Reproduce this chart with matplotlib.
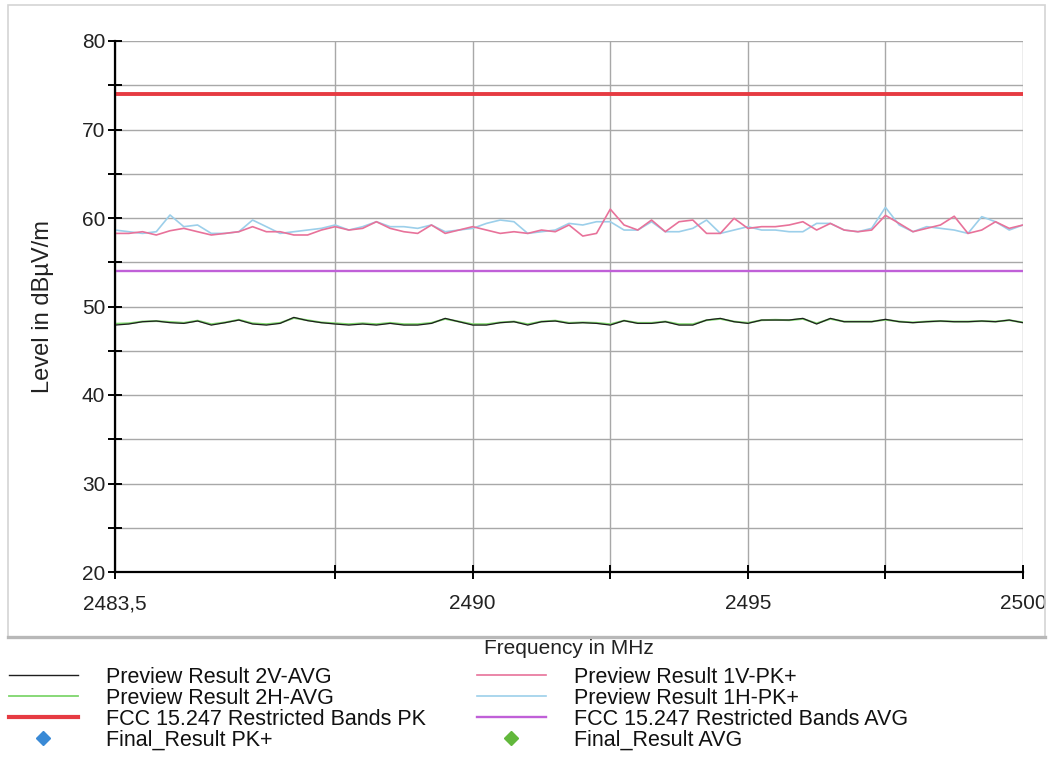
import numpy as np
import matplotlib
matplotlib.use("Agg")
import matplotlib.pyplot as plt
from matplotlib.lines import Line2D
from matplotlib.patches import Rectangle
from matplotlib.ticker import FixedLocator

plt.rcParams['font.family'] = ['Liberation Sans', 'DejaVu Sans']

# ---------------- data ----------------
f_start = 2483.5
f_step = 0.25

pk_1v = [58.26, 58.26, 58.45, 58.08, 58.56, 58.83, 58.45, 58.08, 58.26, 58.45,
         59.02, 58.45, 58.45, 58.08, 58.08, 58.64, 59.02, 58.64, 58.83, 59.58,
         58.83, 58.45, 58.26, 59.21, 58.26, 58.64, 59.02, 58.64, 58.26, 58.45,
         58.26, 58.64, 58.45, 59.21, 57.96, 58.26, 61.00, 59.21, 58.64, 59.77,
         58.45, 59.58, 59.77, 58.26, 58.26, 59.96, 58.83, 59.02, 59.02, 59.21,
         59.58, 58.64, 59.39, 58.64, 58.45, 58.64, 60.30, 59.39, 58.45, 58.83,
         59.21, 60.20, 58.26, 58.64, 59.58, 58.83, 59.21]

pk_1h = [58.64, 58.45, 58.26, 58.45, 60.34, 59.02, 59.21, 58.26, 58.26, 58.45,
         59.77, 59.02, 58.26, 58.45, 58.64, 58.83, 59.21, 58.64, 59.02, 59.58,
         59.02, 59.02, 58.83, 59.21, 58.45, 58.64, 58.83, 59.39, 59.77, 59.58,
         58.26, 58.45, 58.64, 59.39, 59.21, 59.58, 59.58, 58.64, 58.64, 59.58,
         58.45, 58.45, 58.83, 59.77, 58.26, 58.64, 59.02, 58.64, 58.64, 58.45,
         58.45, 59.39, 59.39, 58.64, 58.45, 58.83, 61.20, 59.21, 58.45, 59.02,
         58.83, 58.64, 58.26, 60.15, 59.58, 58.64, 59.21]

avg_2v = [47.90, 48.02, 48.28, 48.36, 48.17, 48.09, 48.36, 47.90, 48.17, 48.47,
          48.02, 47.90, 48.09, 48.77, 48.40, 48.17, 48.02, 47.90, 48.02, 47.90,
          48.09, 47.90, 47.90, 48.09, 48.66, 48.28, 47.90, 47.90, 48.17, 48.28,
          47.90, 48.28, 48.36, 48.09, 48.17, 48.09, 47.90, 48.40, 48.09, 48.09,
          48.28, 47.90, 47.90, 48.47, 48.66, 48.28, 48.09, 48.47, 48.47, 48.47,
          48.66, 48.02, 48.66, 48.28, 48.28, 48.28, 48.55, 48.28, 48.17, 48.28,
          48.36, 48.28, 48.28, 48.36, 48.28, 48.47, 48.17]

avg_2h = [48.05, 48.10, 48.30, 48.35, 48.25, 48.15, 48.40, 48.00, 48.20, 48.50,
          48.10, 48.00, 48.15, 48.70, 48.45, 48.20, 48.10, 48.00, 48.10, 48.00,
          48.15, 48.00, 48.00, 48.15, 48.60, 48.30, 48.00, 48.00, 48.20, 48.30,
          48.00, 48.30, 48.40, 48.15, 48.20, 48.15, 48.00, 48.40, 48.15, 48.15,
          48.30, 48.00, 48.00, 48.45, 48.60, 48.30, 48.15, 48.45, 48.50, 48.45,
          48.60, 48.10, 48.60, 48.30, 48.30, 48.30, 48.50, 48.30, 48.20, 48.30,
          48.35, 48.30, 48.30, 48.35, 48.30, 48.45, 48.20]

limit_freq = [2483.5, 2500.0]
limit_pk = [74.0, 74.0]
limit_avg = [54.0, 54.0]

x_major = [2483.5, 2490, 2495, 2500]
x_major_labels = ["2483,5", "2490", "2495", "2500"]
x_minor = [2487.5, 2492.5, 2497.5]
y_major = [20, 30, 40, 50, 60, 70, 80]
y_minor = [25, 35, 45, 55, 65, 75]

labels = ["Preview Result 2V-AVG", "Preview Result 2H-AVG",
          "FCC 15.247 Restricted Bands PK", "Final_Result PK+",
          "Preview Result 1V-PK+", "Preview Result 1H-PK+",
          "FCC 15.247 Restricted Bands AVG", "Final_Result AVG"]

# ---------------- styles ----------------
C_2V = "#1e1e1e"
C_2H = "#7ed66c"
C_1V = "#e8729a"
C_1H = "#9ccfea"
C_PK = "#e63b42"
C_AVG = "#c060d8"
C_FPK = "#3a8ad6"
C_FAVG = "#62b83c"

W, H = 1064, 774
fig = plt.figure(figsize=(W / 100, H / 100), dpi=100)
fig.patch.set_facecolor("white")

ax = fig.add_axes([115 / W, 1 - 572 / H, (1023 - 115) / W, (572 - 41) / H])

freq = f_start + f_step * np.arange(len(pk_1v))

ax.plot(limit_freq, limit_pk, color=C_PK, lw=2.8, zorder=4)
ax.plot(limit_freq, limit_avg, color=C_AVG, lw=1.7, zorder=4)
ax.plot(freq, pk_1h, color=C_1H, lw=1.2, zorder=3)
ax.plot(freq, pk_1v, color=C_1V, lw=1.2, zorder=3)
ax.plot(freq, avg_2h, color=C_2H, lw=1.4, zorder=3)
ax.plot(freq, avg_2v, color=C_2V, lw=0.9, zorder=3)

ax.set_xlim(2483.5, 2500)
ax.set_ylim(20, 80)
ax.xaxis.set_major_locator(FixedLocator(x_major))
ax.set_xticklabels(x_major_labels)
ax.xaxis.set_minor_locator(FixedLocator(x_minor))
ax.yaxis.set_major_locator(FixedLocator(y_major))
ax.yaxis.set_minor_locator(FixedLocator(y_minor))

ax.grid(True, which="both", color="#a8a8a8", lw=1.0, zorder=0)
ax.set_axisbelow(True)
for s in ["top", "right"]:
    ax.spines[s].set_visible(False)
for s in ["left", "bottom"]:
    ax.spines[s].set_linewidth(1.6)
    ax.spines[s].set_color("black")
    ax.spines[s].set_zorder(5)

ax.tick_params(which="both", direction="inout", length=10, width=1.4, color="black")
ax.tick_params(axis="both", labelsize=15, labelcolor="#222222")
ax.tick_params(axis="y", pad=2)
ax.tick_params(axis="x", pad=11)

ax.set_ylabel("Level in dBµV/m", fontsize=17, labelpad=20, color="#222222")

# x label (partly under frame edge)
fig.text(569 / W, 1 - 648 / H, "Frequency in MHz", ha="center", va="center",
         fontsize=15, color="#222222", zorder=1)

# outer frame
frame = Rectangle((8 / W, 1 - 637 / H), (1045 - 8) / W, (637 - 5) / H,
                  transform=fig.transFigure, fill=False, edgecolor="#d4d4d4",
                  lw=1.2, zorder=10)
fig.add_artist(frame)
fig.add_artist(Line2D([8 / W, 1045 / W], [1 - 637 / H, 1 - 637 / H],
                      transform=fig.transFigure, color="#b8b8b8", lw=2.4, zorder=10))

# legend (two columns)
h_left = [Line2D([], [], color=C_2V, lw=1.0),
          Line2D([], [], color=C_2H, lw=1.3),
          Line2D([], [], color=C_PK, lw=3.0),
          Line2D([], [], ls="none", marker="D", ms=7, color=C_FPK)]
h_right = [Line2D([], [], color=C_1V, lw=1.2),
           Line2D([], [], color=C_1H, lw=1.2),
           Line2D([], [], color=C_AVG, lw=1.7),
           Line2D([], [], ls="none", marker="D", ms=7, color=C_FAVG)]

leg_kw = dict(loc="upper left", frameon=False, fontsize=15.5, handlelength=3.2,
              handletextpad=1.3, labelspacing=0.0, borderpad=0, borderaxespad=0,
              labelcolor="#111111")
fig.legend(h_left, labels[:4], bbox_to_anchor=(9 / W, 1 - 667 / H), **leg_kw)
fig.legend(h_right, labels[4:], bbox_to_anchor=(477 / W, 1 - 667 / H), **leg_kw)

fig.savefig("out.png", dpi=100, facecolor="white")
